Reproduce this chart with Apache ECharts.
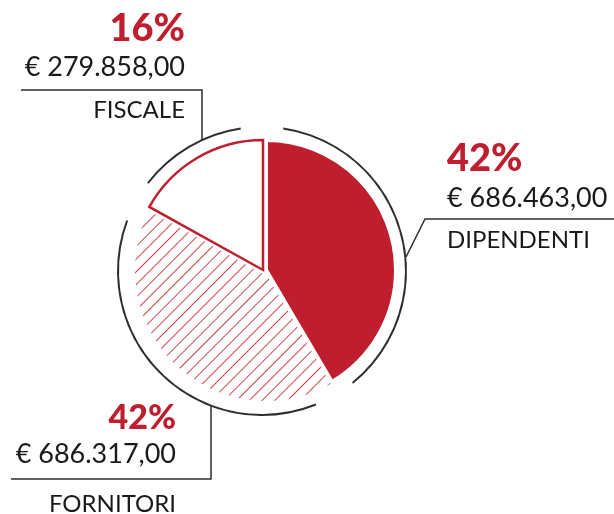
<!DOCTYPE html>
<html>
<head>
<meta charset="utf-8">
<script src="https://cdn.jsdelivr.net/npm/echarts@6/dist/echarts.min.js"></script>
<style>
  html, body { margin: 0; padding: 0; background: #ffffff; }
  #chart { width: 614px; height: 514px; }
</style>
</head>
<body>
<div id="chart"></div>
<script>
// Cost breakdown: categories, amounts (EUR) and printed shares
const categories = ['DIPENDENTI', 'FORNITORI', 'FISCALE'];
const amounts = [686463.00, 686317.00, 279858.00];
const shareLabels = ['42%', '42%', '16%'];

const RED = '#be1e2d';
const INK = '#1a1a1a';
const RULE = '#2e2e2e';
const FONT = 'Lato, "Noto Sans", sans-serif';

// Pie geometry
const PIE_CENTER = [266, 270];
const FISCALE_CENTER = [263, 270];
const PIE_R = 130;
const RING_CENTER = [262, 271];
const RING_R = 144;

// Label blocks: anchor, alignment, text sizes / line heights
const labelPlacement = [
  { x: 447, y: 139, align: 'left',  p: [38, 40], a: [27, 38], n: [24, 46] },
  { x: 176, y: 400, align: 'right', p: [34, 36], a: [27, 36], n: [24, 64] },
  { x: 185, y: 9,   align: 'right', p: [38, 40], a: [27, 36], n: [24, 50] }
];

function ringY(x, below) {
  const dx = x - RING_CENTER[0];
  const dy = Math.sqrt(RING_R * RING_R - dx * dx);
  return below ? RING_CENTER[1] + dy : RING_CENTER[1] - dy;
}
// Leader lines from the outer ring to each label block
const leaderLines = [
  [[406, 257], [425, 219], [614, 219]],
  [[211, ringY(211, true)], [211, 479], [11, 479]],
  [[202, ringY(202, false)], [202, 90], [21, 90]]
];

function euro(v) {
  const whole = Math.floor(v).toString().replace(/\B(?=(\d{3})+(?!\d))/g, '.');
  const cents = Math.round((v - Math.floor(v)) * 100).toString().padStart(2, '0');
  return '€ ' + whole + ',' + cents;
}

// Thin diagonal hatching for the FORNITORI slice
const hatchDecal = {
  symbol: 'rect',
  symbolSize: 1,
  color: '#d0454f',
  backgroundColor: null,
  dashArrayX: [1, 0],
  dashArrayY: [1, 7.5],
  rotation: -Math.PI / 4
};

const NONE = { color: 'rgba(0,0,0,0)', borderWidth: 0 };

// Builds a pie layer where only the listed slices get a style
function layer(styles, center, radius, z) {
  return {
    type: 'pie',
    silent: true,
    z: z,
    center: center,
    radius: radius,
    startAngle: 90,
    clockwise: true,
    label: { show: false },
    labelLine: { show: false },
    data: categories.map((name, i) => ({
      name: name,
      value: amounts[i],
      itemStyle: styles[i] || NONE
    }))
  };
}

const rich = {};
labelPlacement.forEach((l, i) => {
  rich['p' + i] = { fontFamily: FONT, fontWeight: 900, fontSize: l.p[0], lineHeight: l.p[1], color: RED };
  rich['a' + i] = { fontFamily: FONT, fontSize: l.a[0], lineHeight: l.a[1], color: INK };
  rich['n' + i] = { fontFamily: FONT, fontSize: l.n[0], lineHeight: l.n[1], color: INK };
});

const ring = {
  type: 'pie',
  silent: true,
  z: 5,
  center: RING_CENTER,
  radius: [RING_R - 1, RING_R + 1],
  startAngle: 90,
  clockwise: true,
  padAngle: 17,
  avoidLabelOverlap: false,
  itemStyle: { color: RULE, borderWidth: 0 },
  label: {
    show: true,
    position: 'outside',
    formatter: (p) => {
      const i = p.dataIndex;
      return '{p' + i + '|' + shareLabels[i] + '}\n{a' + i + '|' + euro(amounts[i]) + '}\n{n' + i + '|' + categories[i] + '}';
    },
    rich: rich
  },
  labelLine: { show: true, smooth: false, lineStyle: { color: RULE, width: 1.5 } },
  labelLayout: (params) => {
    const l = labelPlacement[params.dataIndex];
    return {
      x: l.x,
      y: l.y,
      align: l.align,
      verticalAlign: 'top',
      labelLinePoints: leaderLines[params.dataIndex]
    };
  },
  data: categories.map((name, i) => ({ name: name, value: amounts[i] }))
};

const chart = echarts.init(document.getElementById('chart'), null, { renderer: 'canvas' });
chart.setOption({
  animation: false,
  backgroundColor: '#ffffff',
  series: [
    // hatched slice
    layer({ 1: { color: '#ffffff', borderWidth: 0, decal: hatchDecal } }, PIE_CENTER, PIE_R + 1, 1),
    // solid slice with a white gap round it
    layer({ 0: { color: RED, borderColor: '#ffffff', borderWidth: 4, borderJoin: 'miter' } }, PIE_CENTER, PIE_R, 2),
    // white halo under the outlined slice
    layer({ 2: { color: '#ffffff', borderColor: '#ffffff', borderWidth: 7, borderJoin: 'miter' } }, FISCALE_CENTER, PIE_R, 3),
    // outlined slice
    layer({ 2: { color: '#ffffff', borderColor: RED, borderWidth: 2.5, borderJoin: 'miter' } }, FISCALE_CENTER, PIE_R, 4),
    ring
  ]
});
</script>
</body>
</html>
